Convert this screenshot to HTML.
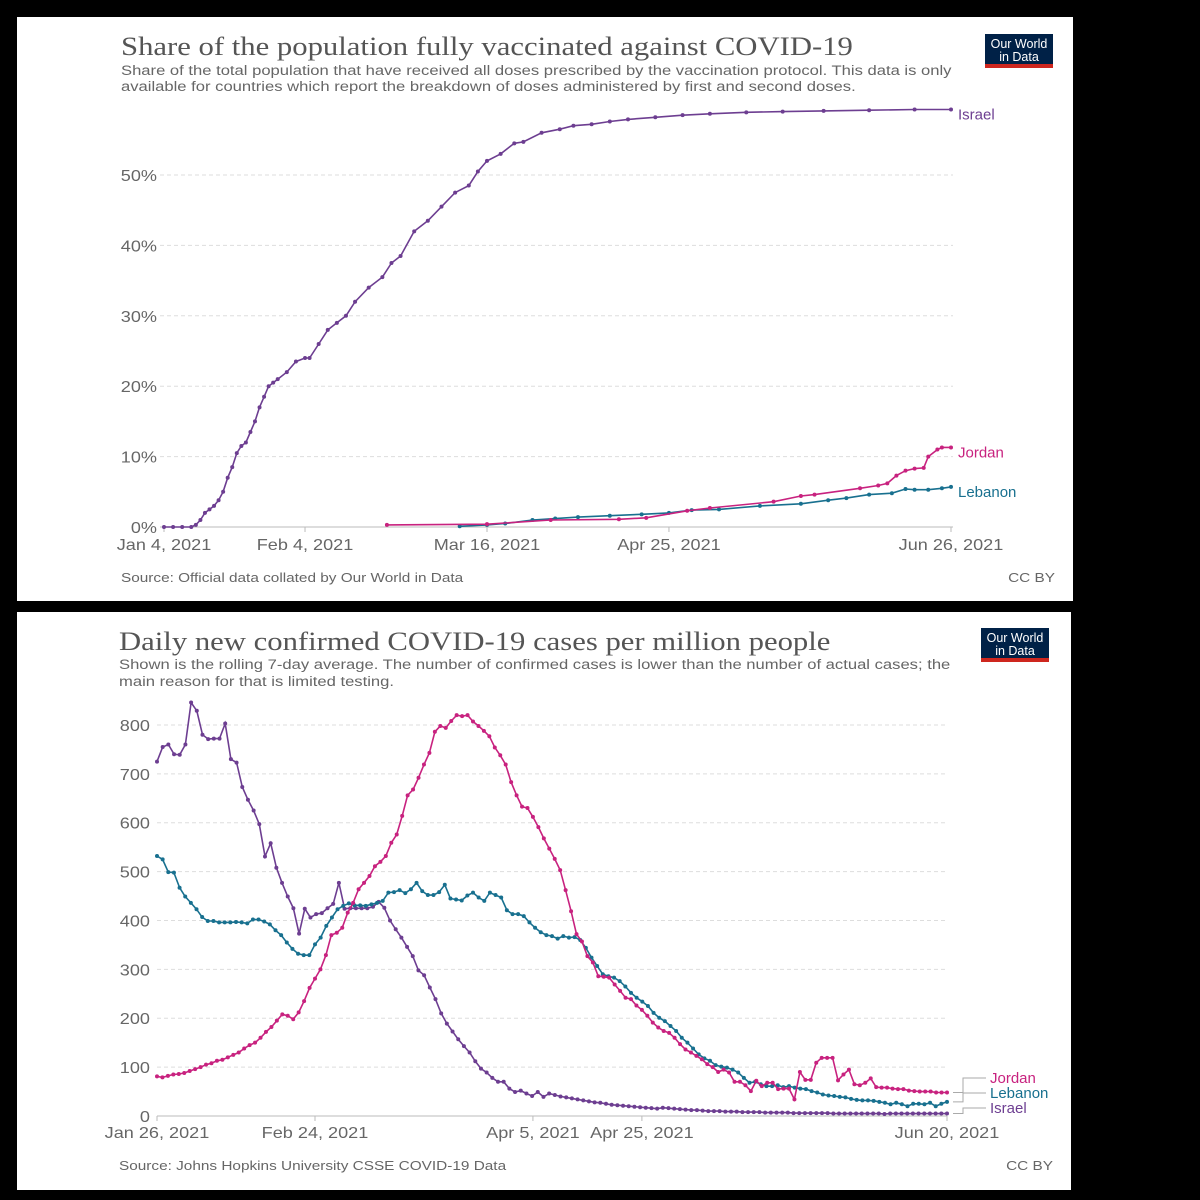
<!DOCTYPE html>
<html><head><meta charset="utf-8">
<style>
html,body{margin:0;padding:0;background:#000;}
svg{display:block;}
text{font-family:"Liberation Sans",sans-serif;}
.title{font-family:"Liberation Serif",serif;font-size:26px;fill:#555;}
.sub{font-size:13.5px;fill:#666;}
.tick{font-size:16px;fill:#666;}
.src{font-size:13px;fill:#666;}
</style></head>
<body>
<svg id="root" width="1200" height="1200" viewBox="0 0 1200 1200">
<rect x="0" y="0" width="1200" height="1200" fill="#000"/>
<g id="top">
<rect x="17" y="17" width="1056" height="584" fill="#fff"/>
<text class="title" x="121" y="55">Share of the population fully vaccinated against COVID-19</text>
<text class="sub" x="121" y="75">Share of the total population that have received all doses prescribed by the vaccination protocol. This data is only</text>
<text class="sub" x="121" y="91">available for countries which report the breakdown of doses administered by first and second doses.</text>
<g>
<rect x="985" y="34" width="68" height="34" fill="#002147"/>
<rect x="985" y="64" width="68" height="4" fill="#ce261e"/>
<text x="1019" y="48" text-anchor="middle" font-size="12.5" fill="#fff">Our World</text>
<text x="1019" y="61" text-anchor="middle" font-size="12.5" fill="#fff">in Data</text>
</g>
<text class="src" x="121" y="582">Source: Official data collated by Our World in Data</text>
<text class="src" x="1055" y="582" text-anchor="end">CC BY</text>
<g id="topPlot"></g>
</g>
<g id="bottom">
<rect x="17" y="612" width="1054" height="578" fill="#fff"/>
<text class="title" x="119" y="650">Daily new confirmed COVID-19 cases per million people</text>
<text class="sub" x="119" y="669">Shown is the rolling 7-day average. The number of confirmed cases is lower than the number of actual cases; the</text>
<text class="sub" x="119" y="686">main reason for that is limited testing.</text>
<g>
<rect x="981" y="628" width="68" height="34" fill="#002147"/>
<rect x="981" y="658" width="68" height="4" fill="#ce261e"/>
<text x="1015" y="642" text-anchor="middle" font-size="12.5" fill="#fff">Our World</text>
<text x="1015" y="655" text-anchor="middle" font-size="12.5" fill="#fff">in Data</text>
</g>
<text class="src" x="119" y="1170">Source: Johns Hopkins University CSSE COVID-19 Data</text>
<text class="src" x="1053" y="1170" text-anchor="end">CC BY</text>
<g id="botPlot"></g>
</g>
</svg>
<script>
// ---------- Top chart data ----------
const topYTicks = [0, 10, 20, 30, 40, 50];
const topXTickDays = [0, 31, 71, 111, 173];
const topXTickLabels = ["Jan 4, 2021", "Feb 4, 2021", "Mar 16, 2021", "Apr 25, 2021", "Jun 26, 2021"];
const israelVaxDays = [0,2,4,6,7,8,9,10,11,12,13,14,15,16,17,18,19,20,21,22,23,24,25,27,29,31,32,34,36,38,40,42,45,48,50,52,55,58,61,64,67,69,71,74,77,79,83,87,90,94,98,102,108,114,120,128,136,145,155,165,173];
const israelVax = [0,0,0,0,0.3,1,2,2.5,3,3.8,5,7,8.5,10.5,11.5,12,13.5,15,17,18.5,20,20.5,21,22,23.5,24,24,26,28,29,30,32,34,35.5,37.5,38.5,42,43.5,45.5,47.5,48.5,50.5,52,53,54.5,54.7,56,56.5,57,57.2,57.6,57.9,58.2,58.5,58.7,58.9,59.0,59.1,59.2,59.3,59.3];
const jordanVaxDays = [49,71,85,100,106,115,120,134,140,143,153,157,159,161,163,165,167,168,170,171,173];
const jordanVax = [0.3,0.4,1.0,1.1,1.3,2.3,2.7,3.6,4.4,4.6,5.5,5.9,6.2,7.3,8.0,8.3,8.4,10,11,11.3,11.3];
const lebanonVaxDays = [65,71,75,81,86,91,98,105,111,116,122,131,140,146,150,155,160,163,165,168,171,173];
const lebanonVax = [0.1,0.3,0.5,1.0,1.2,1.4,1.6,1.8,2.0,2.4,2.5,3.0,3.3,3.8,4.1,4.6,4.8,5.4,5.3,5.3,5.5,5.7];

// ---------- Bottom chart data ----------
const botYTicks = [0,100,200,300,400,500,600,700,800];
const botXTickDays = [0, 29, 69, 89, 145];
const botXTickLabels = ["Jan 26, 2021", "Feb 24, 2021", "Apr 5, 2021", "Apr 25, 2021", "Jun 20, 2021"];
const botSpanDays = 145;
const israelCases = [725,755,760,740,739,760,846,829,780,771,772,772,803,730,723,673,647,625,597,531,558,508,477,449,425,373,424,406,413,415,425,434,477,424,425,425,425,425,428,438,426,400,382,365,346,327,298,288,263,239,210,189,173,157,143,130,112,97,89,78,70,70,56,49,52,46,41,49,39,46,43,40,38,36,34,32,30,28,27,25,23,22,21,20,19,18,17,16,15,17,16,15,14,13,12,12,11,10,10,10,9,9,9,8,8,8,8,7,7,7,7,7,6,6,6,6,6,6,6,5,5,5,5,5,5,5,5,5,4,5,5,5,5,5,5,5,5,5,5,5];
const jordanCases = [81,79,82,85,86,88,92,96,100,105,108,113,115,120,125,130,138,145,150,160,172,182,195,208,205,198,212,235,262,281,300,329,370,375,385,416,436,464,477,491,511,520,532,559,576,614,656,668,692,719,743,786,798,794,808,820,818,820,807,798,788,777,754,738,719,683,656,633,630,612,591,568,547,526,503,462,419,372,357,327,314,286,285,283,269,256,242,239,226,217,205,191,181,174,170,160,147,136,130,123,116,106,100,90,95,89,70,70,63,51,72,61,68,68,55,56,56,34,90,74,74,109,119,119,119,73,85,95,65,63,68,77,59,58,58,56,55,55,52,51,50,50,50,48,48,48];
const lebanonCases = [532,525,499,498,467,449,436,423,407,399,399,396,396,396,397,396,394,402,402,398,392,380,370,355,342,332,329,329,351,365,389,406,423,430,435,431,431,430,433,436,440,457,458,462,456,464,477,460,452,452,458,473,445,443,441,451,457,447,440,457,452,447,421,413,413,409,396,385,376,370,368,363,368,365,366,360,344,324,307,290,286,283,276,265,252,242,234,225,211,201,194,184,174,160,150,138,126,118,113,104,101,99,95,89,78,68,70,65,61,61,63,59,61,58,56,55,51,48,44,42,41,39,38,35,33,32,32,31,29,27,24,27,24,20,25,25,24,27,20,25,29];

const C_ISR = "#6d3e91", C_JOR = "#c8227f", C_LEB = "#18708f";
const NS = "http://www.w3.org/2000/svg";
function mk(tag, attrs, parent) {
  const e = document.createElementNS(NS, tag);
  for (const k in attrs) e.setAttribute(k, attrs[k]);
  parent.appendChild(e);
  return e;
}

// ----- top chart axes -----
const tX = d => 164 + d * (951 - 164) / 173;
const tY = v => 527 - v * 7.04;
const topG = document.getElementById('topPlot');
topYTicks.forEach(v => {
  if (v > 0) {
    const g = mk('line', {x1: 160, x2: 953, y1: tY(v), y2: tY(v), stroke: '#ddd', 'stroke-dasharray': '4,3'}, topG);
    
    
  }
  const t = mk('text', {x: 157, y: tY(v) + 6, 'text-anchor': 'end', class: 'tick'}, topG);
  t.textContent = v + '%';
  
  
});
const tAxis = mk('line', {x1: 160, x2: 953, y1: 527, y2: 527, stroke: '#bbb'}, topG);


topXTickDays.forEach((d, i) => {
  const tk = mk('line', {x1: tX(d), x2: tX(d), y1: 527, y2: 532, stroke: '#bbb'}, topG);
  
  
  const t = mk('text', {x: tX(d), y: 550, 'text-anchor': 'middle', class: 'tick'}, topG);
  t.textContent = topXTickLabels[i];
  
  
});
function series(g, xs, ys, xf, yf, color, name) {
  const pts = xs.map((d, i) => xf(d).toFixed(1) + ',' + yf(ys[i]).toFixed(1)).join(' ');
  const pl = mk('polyline', {points: pts, fill: 'none', stroke: color, 'stroke-width': 1.6}, g);
  
  
  xs.forEach((d, i) => {
    const c = mk('circle', {cx: xf(d), cy: yf(ys[i]), r: 2, fill: color}, g);
    
    
  });
}
series(topG, israelVaxDays, israelVax, tX, tY, C_ISR, 'israel-vaccinated');
series(topG, lebanonVaxDays, lebanonVax, tX, tY, C_LEB, 'lebanon-vaccinated');
series(topG, jordanVaxDays, jordanVax, tX, tY, C_JOR, 'jordan-vaccinated');
[['Israel', israelVax, C_ISR], ['Jordan', jordanVax, C_JOR], ['Lebanon', lebanonVax, C_LEB]].forEach(s => {
  const t = mk('text', {x: 958, y: tY(s[1][s[1].length - 1]) + 10, fill: s[2], 'font-size': 15}, topG);
  t.textContent = s[0];
  
  
});

// ----- bottom chart axes -----
const bX = d => 157 + d * (947 - 157) / 145;
const bY = v => 1116 - v * 0.4888;
const botG = document.getElementById('botPlot');
botYTicks.forEach(v => {
  if (v > 0) {
    const g = mk('line', {x1: 157, x2: 947, y1: bY(v), y2: bY(v), stroke: '#ddd', 'stroke-dasharray': '4,3'}, botG);
    
    
  }
  const t = mk('text', {x: 150, y: bY(v) + 6, 'text-anchor': 'end', class: 'tick'}, botG);
  t.textContent = v;
  
  
});
const bAxis = mk('line', {x1: 157, x2: 947, y1: 1116, y2: 1116, stroke: '#bbb'}, botG);


botXTickDays.forEach((d, i) => {
  const tk = mk('line', {x1: bX(d), x2: bX(d), y1: 1116, y2: 1121, stroke: '#bbb'}, botG);
  
  
  const t = mk('text', {x: bX(d), y: 1138, 'text-anchor': 'middle', class: 'tick'}, botG);
  t.textContent = botXTickLabels[i];
  
  
});
function dailyDays(arr) { return arr.map((v, i) => i * botSpanDays / (arr.length - 1)); }
series(botG, dailyDays(israelCases), israelCases, bX, bY, C_ISR, 'israel-cases');
series(botG, dailyDays(lebanonCases), lebanonCases, bX, bY, C_LEB, 'lebanon-cases');
series(botG, dailyDays(jordanCases), jordanCases, bX, bY, C_JOR, 'jordan-cases');
[['Jordan', jordanCases, C_JOR, 1078], ['Lebanon', lebanonCases, C_LEB, 1093], ['Israel', israelCases, C_ISR, 1108]].forEach(s => {
  const yEnd = bY(s[1][s[1].length - 1]);
  const c = mk('polyline', {points: `953,${yEnd} 963,${yEnd} 963,${s[3]} 986,${s[3]}`, fill: 'none', stroke: '#aaa', 'stroke-width': 1}, botG);
  
  
  const t = mk('text', {x: 990, y: s[3] + 5, fill: s[2], 'font-size': 15}, botG);
  t.textContent = s[0];
  
  
});

// horizontal stretch of text to match reference proportions
const stretch = {title: 1.18, sub: 1.23, src: 1.18, tick: 1.13};
document.querySelectorAll('text').forEach(t => {
  const cls = t.getAttribute('class');
  if (cls && stretch[cls]) {
    const w = t.getComputedTextLength();
    t.setAttribute('textLength', (w * stretch[cls]).toFixed(1));
    t.setAttribute('lengthAdjust', 'spacingAndGlyphs');
  }
});
</script>
</body></html>
